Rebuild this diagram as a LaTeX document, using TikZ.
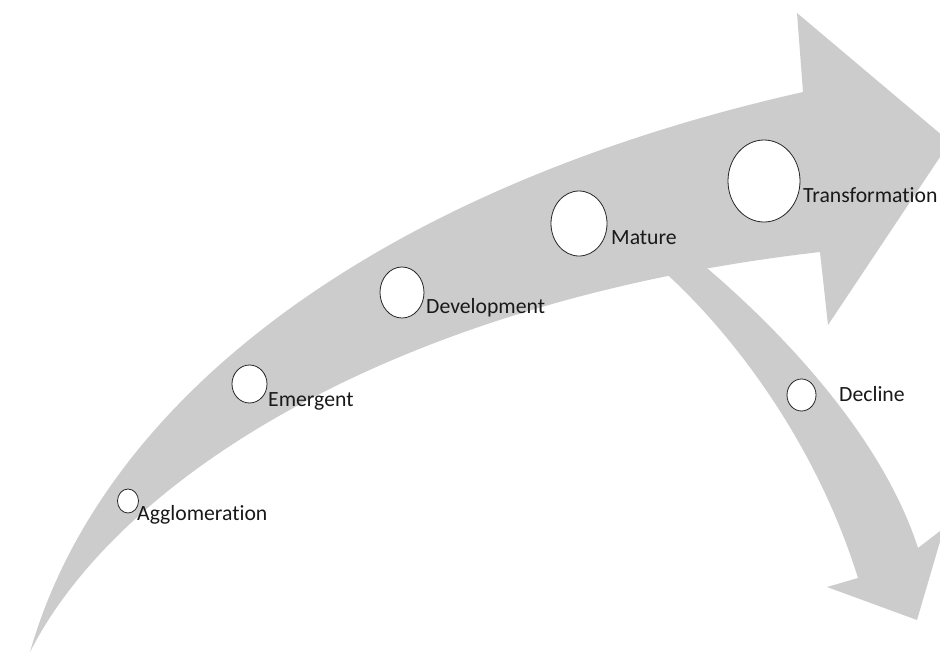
\documentclass[tikz,border=0pt]{standalone}
\usepackage{fontspec}
\setmainfont[Ligatures=NoCommon]{Carlito}
\usetikzlibrary{shapes.geometric}
\definecolor{arrowgray}{RGB}{204,204,204}
\begin{document}
\begin{tikzpicture}[x=1pt,y=-1pt,
  stage/.style={ellipse, draw=black!85, line width=0.8pt, fill=white, inner sep=0pt},
  lbl/.style={anchor=base west, inner sep=0pt, font=\fontsize{21.7}{26}\selectfont, text=black!90}]
\useasboundingbox (0,0) rectangle (940,654);
\clip (0,0) rectangle (940,654);
\fill[white] (0,0) rectangle (940,654);
% main arrow
\fill[arrowgray] (30,652) .. controls (105,390) and (390,185) .. (803,92)
  -- (797,13) -- (950,142) -- (828,325) -- (820,252)
  .. controls (400,300) and (120,475) .. (30,652) -- cycle;
% decline branch
\fill[arrowgray] (660,268) .. controls (730,330) and (815,440) .. (858,578)
  -- (827,587) -- (917,620) -- (944,528) -- (918,548)
  .. controls (880,430) and (770,320) .. (695,258) -- cycle;
% stages
\node[stage, minimum width=21pt, minimum height=24pt] (agg) at (128,501) {};
\node[lbl] (aggt) at (137,520) {Agglomeration};
\node[stage, minimum width=35pt, minimum height=38pt] (emg) at (249.5,384) {};
\node[lbl] (emgt) at (268,406) {Emergent};
\node[stage, minimum width=44pt, minimum height=51pt] (dev) at (402,292.5) {};
\node[lbl] (devt) at (426,313) {Development};
\node[stage, minimum width=56pt, minimum height=65pt] (mat) at (579,223.5) {};
\node[lbl] (matt) at (611,244) {Mature};
\node[stage, minimum width=72pt, minimum height=82pt] (trf) at (764,181) {};
\node[lbl] (trft) at (803,202) {Transformation};
\node[stage, minimum width=29pt, minimum height=32pt] (dec) at (801.5,395) {};
\node[lbl] (dect) at (839,401) {Decline};
\end{tikzpicture}
\end{document}
